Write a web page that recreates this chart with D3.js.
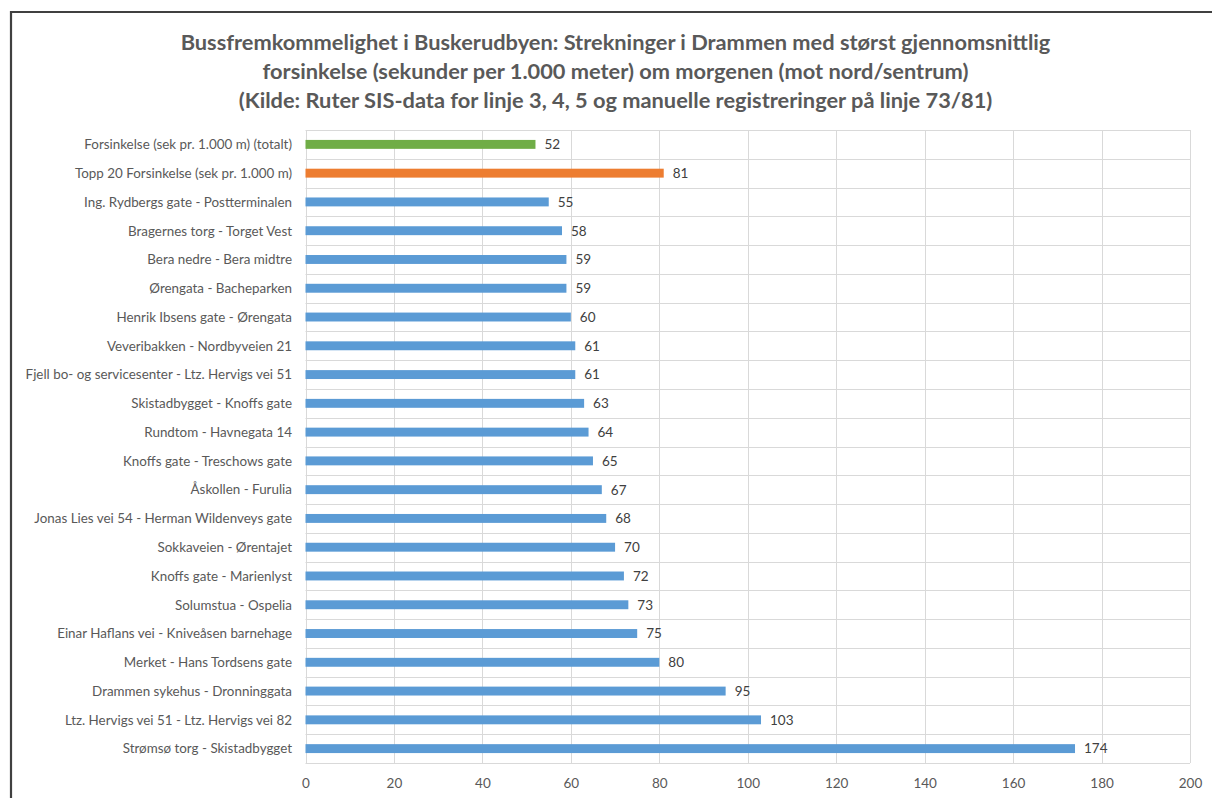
<!DOCTYPE html>
<html>
<head>
<meta charset="utf-8">
<script src="https://cdn.jsdelivr.net/npm/d3@7"></script>
<style>
  html, body { margin: 0; padding: 0; background: #fff; }
  svg { display: block; }
</style>
</head>
<body>
<svg id="chart" width="1212" height="798"></svg>
<script>
// Segment names, top to bottom
const categories = [
  "Forsinkelse (sek pr. 1.000 m) (totalt)",
  "Topp 20 Forsinkelse (sek pr. 1.000 m)",
  "Ing. Rydbergs gate - Postterminalen",
  "Bragernes torg - Torget Vest",
  "Bera nedre - Bera midtre",
  "Ørengata - Bacheparken",
  "Henrik Ibsens gate - Ørengata",
  "Veveribakken - Nordbyveien 21",
  "Fjell bo- og servicesenter - Ltz. Hervigs vei 51",
  "Skistadbygget - Knoffs gate",
  "Rundtom - Havnegata 14",
  "Knoffs gate - Treschows gate",
  "Åskollen - Furulia",
  "Jonas Lies vei 54 - Herman Wildenveys gate",
  "Sokkaveien - Ørentajet",
  "Knoffs gate - Marienlyst",
  "Solumstua - Ospelia",
  "Einar Haflans vei - Kniveåsen barnehage",
  "Merket - Hans Tordsens gate",
  "Drammen sykehus - Dronninggata",
  "Ltz. Hervigs vei 51 - Ltz. Hervigs vei 82",
  "Strømsø torg - Skistadbygget"
];

// Delay in seconds per 1,000 m
const delays = [52, 81, 55, 58, 59, 59, 60, 61, 61, 63, 64, 65, 67, 68, 70, 72, 73, 75, 80, 95, 103, 174];

// Bar colour group: total, top-20 average, individual segments
const groups = ["total", "top20", "segment", "segment", "segment", "segment", "segment", "segment",
  "segment", "segment", "segment", "segment", "segment", "segment", "segment", "segment",
  "segment", "segment", "segment", "segment", "segment", "segment"];

const xTicks = [0, 20, 40, 60, 80, 100, 120, 140, 160, 180, 200];

const titleLines = [
  "Bussfremkommelighet i Buskerudbyen: Strekninger i Drammen med størst gjennomsnittlig",
  "forsinkelse (sekunder per 1.000 meter) om morgenen (mot nord/sentrum)",
  "(Kilde: Ruter SIS-data for linje 3, 4, 5 og manuelle registreringer på linje 73/81)"
];

const colorOf = { total: "#70ad47", top20: "#ed7d31", segment: "#5b9bd5" };
const font = "Lato, 'Open Sans', sans-serif";

const svg = d3.select("#chart");
const W = 1212, H = 798;
const plot = { left: 305.5, right: 1190, top: 130, bottom: 763 };

const rows = categories.map((c, i) => ({ name: c, value: delays[i], group: groups[i] }));

const x = d3.scaleLinear().domain([0, 200]).range([plot.left, plot.right]);
const y = d3.scaleBand().domain(categories).range([plot.top, plot.bottom]).paddingInner(0.69).paddingOuter(0.345);
const band = d3.scaleBand().domain(categories).range([plot.top, plot.bottom]);

// Outer chart frame (left and top edges are visible)
svg.append("path")
  .attr("d", `M11,${H + 5} V12 H${W + 5}`)
  .attr("fill", "none").attr("stroke", "#404040").attr("stroke-width", 2.2);

// Title
svg.append("g").selectAll("text").data(titleLines).join("text")
  .attr("x", 615.5)
  .attr("y", (d, i) => 50 + i * 29)
  .attr("text-anchor", "middle")
  .attr("font-family", font)
  .attr("font-weight", "bold")
  .attr("font-size", 21.8)
  .attr("fill", "#595959")
  .text(d => d);

// Vertical gridlines
const grid = svg.append("g");
grid.selectAll("line.v").data(xTicks).join("line")
  .attr("class", "v")
  .attr("x1", d => Math.round(x(d)) + 0.5).attr("x2", d => Math.round(x(d)) + 0.5)
  .attr("y1", plot.top).attr("y2", plot.bottom)
  .attr("stroke", "#d9d9d9").attr("stroke-width", 1);

// Horizontal lines between categories
const bounds = categories.map(c => band(c)).concat([plot.bottom]);
grid.selectAll("line.h").data(bounds).join("line")
  .attr("class", "h")
  .attr("x1", plot.left).attr("x2", plot.right)
  .attr("y1", d => Math.round(d) + 0.5).attr("y2", d => Math.round(d) + 0.5)
  .attr("stroke", "#d9d9d9").attr("stroke-width", 1);

// Bars
svg.append("g").selectAll("rect").data(rows).join("rect")
  .attr("x", x(0))
  .attr("y", d => y(d.name))
  .attr("width", d => x(d.value) - x(0))
  .attr("height", y.bandwidth())
  .attr("fill", d => colorOf[d.group]);

// Value labels
svg.append("g").selectAll("text").data(rows).join("text")
  .attr("x", d => x(d.value) + 9)
  .attr("y", d => y(d.name) + y.bandwidth() / 2)
  .attr("dy", "0.36em")
  .attr("font-family", font)
  .attr("font-size", 13.5)
  .attr("fill", "#404040")
  .text(d => d.value);

// Category labels
svg.append("g").selectAll("text").data(rows).join("text")
  .attr("x", 292)
  .attr("y", d => y(d.name) + y.bandwidth() / 2)
  .attr("dy", "0.36em")
  .attr("text-anchor", "end")
  .attr("font-family", font)
  .attr("font-size", 13.4)
  .attr("fill", "#595959")
  .text(d => d.name);

// X axis tick labels
const xAxis = d3.axisBottom(x).tickValues(xTicks).tickSize(0).tickPadding(0);
const ax = svg.append("g").attr("transform", `translate(0,${plot.bottom})`).call(xAxis);
ax.select(".domain").remove();
ax.selectAll("text")
  .attr("y", 25)
  .attr("dy", 0)
  .attr("font-family", font)
  .attr("font-size", 13.5)
  .attr("fill", "#595959");
</script>
</body>
</html>
